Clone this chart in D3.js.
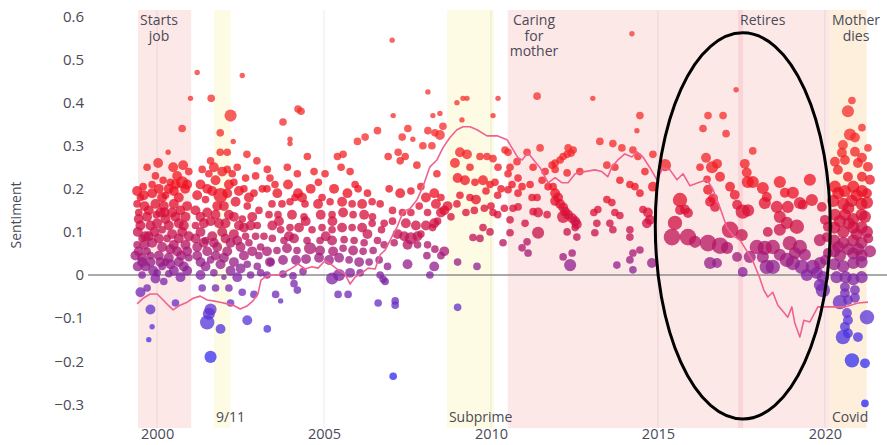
<!DOCTYPE html>
<html><head><meta charset="utf-8">
<script src="https://cdn.jsdelivr.net/npm/d3@7"></script>
<style>body{margin:0;background:#fff;} svg{display:block;font-family:"Open Sans",sans-serif;}</style>
</head><body><svg id="c" width="887" height="445"></svg>
<script>
// ---------- DATA ----------
const yTicks = [-0.3,-0.2,-0.1,0,0.1,0.2,0.3,0.4,0.5,0.6];
const xTicks = [2000,2005,2010,2015,2020];

const bandStart = [1999.43, 2001.70, 2008.68, 2010.50, 2017.40, 2020.15];
const bandEnd   = [2001.02, 2002.20, 2010.09, 2020.15, 2017.55, 2021.25];
const bandKind  = ["life","event","event","life","mark","both"];

const topLabels = [["Starts","job"],["Caring","for","mother"],["Retires"],["Mother","dies"]];
const topLabelYear = [1999.43, 2010.50, 2017.40, 2020.15];
const bottomLabels = ["9/11","Subprime","Covid"];
const bottomLabelYear = [2001.70, 2008.68, 2020.15];

const ellipseCenter = [2017.54, 0.114];
const ellipseHalf = [2.62, 0.448];

// moving average line
const lineYears = [1999.40,1999.58,1999.79,2000.00,2000.18,2000.33,2000.48,2000.69,2000.90,2001.08,2001.29,2001.50,2001.68,2001.89,2002.10,2002.28,2002.49,2002.69,2002.87,2003.02,2003.11,2003.23,2003.38,2003.62,2003.83,2004.04,2004.22,2004.43,2004.64,2004.82,2005.03,2005.24,2005.42,2005.63,2005.78,2005.93,2006.14,2006.32,2006.53,2006.68,2006.83,2006.98,2007.19,2007.37,2007.57,2007.78,2007.96,2008.17,2008.38,2008.56,2008.77,2008.98,2009.16,2009.37,2009.58,2009.88,2010.18,2010.48,2010.66,2010.81,2010.93,2011.11,2011.32,2011.47,2011.71,2011.92,2012.13,2012.31,2012.52,2012.81,2013.11,2013.32,2013.50,2013.62,2013.80,2014.01,2014.22,2014.37,2014.55,2014.76,2014.97,2015.15,2015.36,2015.57,2015.75,2015.96,2016.26,2016.47,2016.65,2016.86,2017.07,2017.25,2017.46,2017.66,2017.84,2018.05,2018.17,2018.29,2018.44,2018.59,2018.71,2018.89,2019.01,2019.10,2019.25,2019.37,2019.55,2019.79,2020.21,2020.60,2020.99,2021.29];
const lineValues = [-0.067,-0.054,-0.044,-0.044,-0.058,-0.070,-0.081,-0.070,-0.063,-0.054,-0.049,-0.058,-0.060,-0.063,-0.067,-0.070,-0.079,-0.072,-0.060,-0.044,-0.012,-0.005,0.000,0.000,0.007,0.016,0.026,0.014,0.019,0.016,0.033,0.023,0.012,0.002,-0.021,-0.005,0.005,0.016,0.014,0.047,0.058,0.081,0.112,0.147,0.154,0.174,0.205,0.251,0.267,0.295,0.319,0.337,0.344,0.344,0.337,0.323,0.323,0.314,0.291,0.272,0.267,0.284,0.263,0.249,0.214,0.226,0.214,0.214,0.235,0.240,0.244,0.240,0.228,0.251,0.267,0.281,0.274,0.286,0.274,0.249,0.221,0.249,0.244,0.221,0.235,0.207,0.216,0.221,0.198,0.156,0.109,0.091,0.081,0.056,0.033,-0.007,-0.035,-0.051,-0.040,-0.070,-0.081,-0.098,-0.074,-0.112,-0.144,-0.105,-0.109,-0.074,-0.074,-0.074,-0.065,-0.063];

// [year, sentiment, weight]
const startsJobPts = [[2001.0,.41,1],[2000.75,.34,2],[2000.33,.285,1],[2000.03,.26,3],[1999.70,.25,2],[2000.48,.25,3],[2000.78,.255,3],[1999.40,.195,3],[1999.58,.205,2],[1999.95,.23,2],[2000.18,.22,2],[2000.75,.215,4],[2000.84,.20,3],[2000.50,.195,3],[2000.25,.185,2],
[1999.40,.165,2],[1999.62,.16,3],[1999.95,.165,3],[2000.20,.16,3],[2000.50,.165,3],[2000.90,.16,3],
[1999.45,.13,3],[1999.70,.135,3],[1999.98,.14,2],[2000.25,.13,3],[2000.55,.135,3],[2000.85,.135,3],
[1999.42,.10,3],[1999.65,.09,3],[1999.92,.10,3],[2000.15,.105,2],[2000.45,.095,3],[2000.75,.10,3],
[1999.40,.07,2],[1999.62,.07,3],[1999.85,.075,3],[2000.15,.065,3],[2000.50,.07,3],[2000.85,.07,3],
[1999.35,.045,3],[1999.55,.04,3],[1999.80,.045,2],[2000.05,.045,3],[2000.35,.04,3],[2000.72,.045,3],
[1999.42,.02,3],[1999.65,.02,3],[1999.88,.01,3],[2000.15,.02,2],[2000.50,.01,3],[2000.80,.02,3],
[1999.55,.0,2],[1999.95,-.008,3],[2000.20,-.015,2],[2000.35,.003,2],[2000.70,-.005,3],
[1999.70,-.03,2],[1999.50,-.04,3],[1999.80,-.08,3],[1999.85,-.12,1],[1999.75,-.15,1],[2000.55,-.065,2],
[1999.50,.18,2],[2000.05,.20,3],[1999.80,.115,3],[2000.35,.115,3],[2000.65,.12,3],[1999.55,.085,2],[2000.30,.085,2],[2000.95,.09,3],[1999.70,.055,2],[2000.60,.055,3],[2000.95,.04,2],[2000.25,.03,2],[2000.00,.005,2],[1999.45,.145,2],[2000.10,.145,3],[2000.70,.15,3],[2000.40,.215,2],[2000.95,.24,2],[2000.60,.23,3],
[1999.50,.115,3],[1999.75,.15,3],[2000.0,.12,3],[2000.22,.145,3],[2000.45,.145,3],[2000.80,.115,3],[1999.45,.055,3],[1999.75,.09,3],[2000.05,.085,3],[2000.40,.06,3],[2000.65,.085,3],[2000.90,.055,3],[1999.55,.03,3],[1999.80,.03,3],[2000.10,.03,3],[2000.40,.025,3],[2000.65,.03,3],[2000.90,.01,3],[1999.60,.185,3],[1999.85,.19,3],[2000.15,.18,3],[2000.35,.2,3],[2000.65,.18,3],[2000.90,.21,3],[1999.85,.21,2],[2000.55,.21,3]];

const earlyPts = [[2001.20,.47,1],[2002.55,.463,1],[2001.62,.41,2],[2002.20,.37,4],[2001.89,.33,2],[2002.28,.31,1],[2001.60,.265,2],[2001.89,.285,2],[2002.10,.285,2],[2002.69,.28,2],[2002.99,.265,2],
[2001.35,.245,2],[2001.70,.25,3],[2002.10,.245,2],[2002.40,.25,2],
[2001.30,.21,3],[2001.65,.195,3],[2001.90,.185,5],[2002.10,.19,3],[2002.35,.17,3],[2002.60,.20,2],[2002.90,.19,2],
[2001.30,.135,3],[2001.50,.145,3],[2001.75,.14,3],[2002.15,.14,3],[2002.55,.13,2],[2002.85,.135,3],
[2001.30,.10,3],[2001.65,.09,3],[2001.95,.10,3],[2002.30,.095,3],[2002.65,.09,2],[2002.95,.09,2],
[2001.20,.065,3],[2001.50,.055,3],[2001.80,.065,3],[2002.10,.055,3],[2002.50,.065,3],[2002.85,.055,3],[2003.10,.065,2],
[2001.30,.03,3],[2001.60,.035,2],[2001.90,.025,3],[2002.30,.03,3],[2002.70,.025,2],[2003.00,.02,2],[2003.40,.03,2],
[2001.30,.0,3],[2001.70,.005,2],[2002.00,-.005,1],[2002.40,-.005,3],[2002.80,.0,2],[2003.10,.005,2],
[2001.35,-.03,2],[2001.75,-.03,2],[2002.15,-.03,2],[2002.55,-.04,2],
[2001.60,-.08,4],[2001.55,-.09,4],[2001.50,-.11,5],[2001.90,-.125,3],[2002.70,-.105,3],[2003.30,-.125,2],[2001.60,-.19,4],
[2002.20,-.065,2],[2002.90,-.045,2],[2003.55,-.045,2],[2003.70,-.06,1],
[2001.45,.175,2],[2002.00,.16,3],[2002.70,.16,2],[2001.15,.115,2],[2001.85,.12,3],[2002.45,.115,3],[2003.00,.115,2],[2002.20,.075,3],[2002.75,.075,2],[2001.45,.08,2],[2003.05,.15,2],[2003.15,.20,2],[2003.05,.045,2],[2003.20,.09,2],[2002.65,.225,2],[2002.95,.23,2],[2002.30,.215,2],
[2001.15,.15,3],[2001.40,.12,3],[2001.60,.125,3],[2001.80,.16,3],[2002.05,.12,3],[2002.30,.135,3],[2002.60,.11,3],[2002.80,.115,3],[2001.15,.085,3],[2001.40,.075,3],[2001.70,.075,3],[2002.05,.085,3],[2002.40,.08,3],[2002.60,.045,3],[2001.20,.045,3],[2001.45,.02,3],[2001.75,.045,3],[2002.00,.04,3],[2002.20,.01,3],[2002.50,.015,3],[2001.20,.185,3],[2001.50,.2,3],[2001.75,.22,3],[2002.15,.21,3],[2002.45,.195,3],[2002.75,.18,3],[2001.55,.235,2],[2001.95,.24,3],[2002.25,.235,2]];

const midPts = [[2004.22,.385,2],[2004.31,.38,2],[2003.77,.355,2],[2003.98,.315,1],[2003.98,.305,1],[2006.60,.335,2],[2006.00,.31,2],[2006.23,.32,2],
[2003.30,.245,2],[2003.90,.25,2],[2004.20,.235,2],[2004.50,.275,2],[2005.03,.235,2],[2005.40,.275,2],[2005.57,.28,2],[2005.51,.25,2],[2005.78,.24,2],[2005.93,.21,2],[2006.02,.20,2],
[2004.83,.215,2],[2004.94,.18,2],[2003.38,.225,2],[2003.53,.21,2],[2003.92,.21,3],[2004.22,.19,3],[2004.13,.18,2],[2004.34,.18,3],[2003.29,.20,2],
[2003.44,.165,2],[2003.74,.165,2],[2003.98,.17,2],[2004.43,.165,2],[2004.82,.165,3],[2005.18,.17,2],[2005.54,.17,3],[2005.84,.165,2],[2006.14,.165,3],[2006.44,.17,2],[2006.68,.165,2],
[2003.35,.14,2],[2003.62,.14,2],[2004.04,.14,3],[2004.40,.135,2],[2004.90,.14,3],[2005.24,.14,2],[2005.57,.145,3],[2005.87,.14,2],[2006.20,.14,3],[2006.45,.135,2],
[2003.45,.115,3],[2003.70,.105,2],[2003.98,.11,2],[2004.25,.11,3],[2004.64,.105,2],[2004.94,.11,2],[2005.24,.105,2],[2005.54,.11,3],[2005.84,.11,2],[2006.14,.11,3],[2006.44,.12,2],[2006.72,.105,2],
[2003.45,.085,2],[2003.80,.08,2],[2004.10,.085,3],[2004.49,.08,2],[2004.88,.08,2],[2005.24,.08,3],[2005.60,.082,2],[2005.90,.08,2],[2006.20,.075,2],[2006.60,.08,2],
[2003.29,.055,3],[2003.59,.057,2],[2003.89,.062,3],[2004.19,.057,2],[2004.58,.062,4],[2004.88,.057,3],[2005.27,.055,3],[2005.57,.062,2],[2005.87,.057,3],[2006.17,.055,2],[2006.47,.057,2],
[2003.38,.03,3],[2003.77,.035,3],[2004.16,.035,3],[2004.46,.037,3],[2004.85,.04,3],[2005.15,.035,3],[2005.45,.04,3],[2005.75,.035,2],[2006.05,.03,3],[2006.35,.03,2],[2006.65,.035,2],
[2003.29,.0,2],[2003.77,.002,2],[2004.07,-.002,2],[2004.37,.008,2],[2005.24,-.008,4],[2005.45,.0,4],[2005.78,.005,3],[2006.08,.005,2],[2006.68,.0,2],
[2004.10,-.02,2],[2004.20,-.035,2],[2005.42,-.045,2],[2005.72,-.045,2],[2006.62,-.065,2],[2006.83,-.015,2],
[2003.60,.19,3],[2004.60,.2,3],[2005.30,.2,3],[2005.70,.19,3],[2006.30,.19,2],[2004.70,.24,2],[2005.25,.125,3],[2004.45,.125,3],[2003.65,.125,3],[2006.30,.095,3],[2005.05,.09,3],[2003.95,.09,3]];

const subprimePts = [[2007.04,.545,1],[2008.11,.425,1],[2008.98,.40,1],[2009.28,.41,1],[2009.16,.41,1],[2010.21,.41,1],[2007.07,.37,1],[2008.26,.37,1],[2008.47,.375,1],[2009.13,.36,1],[2010.06,.37,1],
[2007.51,.34,2],[2007.34,.32,2],[2007.66,.315,1],[2008.11,.335,2],[2008.32,.33,2],[2008.47,.325,3],[2008.56,.345,2],
[2007.96,.30,2],[2008.23,.30,2],[2006.92,.275,2],[2007.22,.285,2],[2007.43,.275,2],[2007.78,.255,2],[2007.28,.265,2],
[2009.07,.285,3],[2009.28,.28,3],[2009.37,.25,2],[2009.67,.275,2],[2009.88,.275,2],[2010.06,.27,2],[2010.21,.25,2],[2010.42,.29,2],
[2008.92,.26,3],[2009.00,.225,3],[2009.22,.22,3],[2009.52,.215,2],[2009.76,.22,3],[2009.97,.21,2],[2010.12,.215,2],[2010.30,.20,2],[2008.38,.235,2],
[2006.95,.20,2],[2007.28,.19,3],[2007.60,.195,2],[2007.90,.205,2],[2008.05,.18,3],[2008.30,.19,3],
[2008.50,.18,2],[2008.70,.16,3],[2008.98,.165,2],[2009.07,.185,2],[2009.37,.18,2],[2009.55,.175,3],[2009.85,.195,2],[2010.00,.16,2],[2010.20,.185,2],
[2008.35,.165,3],[2008.50,.145,3],[2008.60,.15,3],[2008.80,.135,2],[2009.25,.145,2],[2009.50,.15,2],[2009.80,.155,2],[2010.20,.14,2],[2010.40,.155,2],
[2007.05,.15,2],[2007.35,.145,2],[2007.60,.145,2],[2007.85,.16,2],[2008.10,.145,2],[2008.30,.12,3],[2008.40,.125,2],
[2006.80,.12,2],[2007.05,.125,2],[2007.45,.12,3],[2007.75,.115,3],[2008.05,.115,3],[2008.25,.11,2],
[2007.20,.095,3],[2007.40,.09,3],[2007.60,.085,4],[2007.80,.09,3],[2007.90,.095,2],
[2006.80,.07,2],[2007.10,.075,2],[2007.50,.07,3],[2007.80,.07,2],[2008.10,.07,2],
[2009.46,.087,2],[2009.67,.085,2],[2009.76,.11,2],[2009.97,.10,2],[2010.36,.075,2],[2010.06,.145,2],
[2008.32,.06,2],[2008.60,.055,3],[2008.08,.045,2],[2008.50,.045,2],
[2006.90,.02,2],[2007.50,.025,3],[2008.30,.02,3],[2009.00,.03,2],[2009.58,.02,2],[2008.17,.0,2],[2006.77,-.01,2],
[2007.13,-.06,2],[2007.13,-.07,2],[2009.00,-.075,2],[2007.07,-.235,2]];

const caringPts = [[2014.22,.56,1],[2011.38,.415,2],[2013.05,.41,1],[2014.46,.37,2],[2014.37,.335,1],
[2013.26,.31,2],[2013.65,.305,2],[2013.92,.295,2],[2014.25,.29,2],[2014.40,.275,2],[2014.85,.28,2],
[2012.31,.295,2],[2012.46,.29,2],[2012.40,.283,2],[2012.16,.275,2],[2012.28,.28,2],[2012.07,.267,2],[2011.92,.26,2],[2011.83,.255,2],
[2011.47,.295,2],[2011.08,.285,2],[2010.51,.285,2],[2010.78,.263,2],[2010.57,.25,2],[2011.26,.25,2],[2011.62,.24,2],[2011.92,.245,2],[2012.28,.237,2],[2012.66,.24,2],
[2013.47,.255,2],[2013.71,.25,2],[2013.86,.22,2],[2014.16,.21,2],[2014.46,.19,2],[2014.85,.205,3],[2014.61,.24,2],[2014.31,.205,2],
[2010.51,.235,2],[2010.81,.225,2],[2010.63,.21,2],[2010.93,.205,2],[2011.17,.21,2],[2011.53,.22,2],[2011.71,.205,2],[2011.86,.205,2],
[2011.92,.19,3],[2012.01,.18,3],[2011.92,.172,3],[2012.07,.165,3],[2012.16,.157,3],[2012.22,.147,3],[2012.31,.14,3],[2012.43,.132,3],[2012.52,.125,3],[2012.57,.118,3],[2012.16,.135,4],
[2011.23,.18,2],[2011.38,.18,2],[2010.51,.198,2],[2010.81,.19,2],
[2010.66,.155,2],[2010.81,.158,2],[2011.26,.147,2],[2011.41,.145,3],[2011.68,.14,2],
[2013.47,.175,2],[2013.62,.168,2],[2013.20,.152,2],[2013.08,.145,2],[2013.71,.145,2],[2013.86,.138,2],
[2014.55,.152,2],[2014.70,.145,3],[2014.76,.128,3],[2014.67,.12,3],
[2011.02,.12,2],[2010.57,.128,2],[2011.41,.098,4],[2012.28,.10,2],[2012.57,.088,2],[2012.52,.11,2],[2013.17,.12,2],[2013.11,.098,2],[2013.56,.12,2],[2013.65,.105,2],[2014.16,.105,2],[2014.16,.088,2],
[2010.57,.098,2],[2011.08,.077,2],[2010.93,.063,2],[2011.11,.051,2],[2012.16,.042,2],[2012.43,.051,2],[2012.37,.023,4],[2013.77,.023,2],
[2014.25,.051,2],[2014.46,.058,2],[2014.16,.035,2],[2014.25,.012,2],[2014.82,.028,3]];

const retirePts = [[2017.34,.43,1],[2016.50,.37,2],[2016.95,.37,2],[2016.35,.34,2],[2017.04,.328,2],[2017.84,.288,2],
[2015.21,.255,4],[2016.44,.272,3],[2016.77,.258,3],[2016.62,.25,4],[2016.86,.228,3],[2016.26,.25,2],[2016.47,.222,2],
[2017.60,.258,3],[2017.66,.238,3],[2017.69,.216,4],
[2017.16,.205,3],[2017.30,.186,3],[2017.37,.163,3],[2017.54,.147,5],[2017.70,.15,4],
[2016.56,.17,3],[2016.71,.158,3],[2016.50,.198,3],[2016.65,.178,3],
[2015.66,.174,5],[2015.66,.151,3],[2015.90,.144,3],[2015.51,.121,5],[2015.81,.152,3],
[2015.42,.088,6],[2015.90,.088,6],[2016.11,.077,4],[2016.50,.074,6],[2016.86,.068,6],[2017.07,.063,4],[2017.16,.105,6],[2017.51,.093,4],
[2016.56,.028,4],[2016.77,.028,3],[2017.37,.042,3],[2017.75,.042,4],[2017.54,.007,3],
[2017.96,.065,5],[2018.20,.063,5],[2018.44,.065,5],[2018.95,.074,5],[2019.25,.065,5],[2019.85,.081,4],
[2017.84,.216,4],[2018.14,.202,4],[2018.26,.181,3],[2018.65,.216,4],[2018.80,.191,3],[2019.04,.191,4],[2019.55,.221,4],
[2018.20,.167,4],[2018.56,.158,4],[2018.89,.158,4],[2019.25,.167,4],[2019.61,.174,4],[2019.91,.158,3],[2019.34,.163,3],
[2018.65,.135,4],[2018.86,.121,4],[2019.16,.112,5],[2018.65,.105,4],[2018.29,.1,3],
[2018.26,.019,5],[2018.44,.019,5],[2018.86,.035,5],[2019.04,.028,5],[2019.31,.019,5],[2019.64,.019,5],[2019.85,.028,4],
[2018.14,.042,4],[2018.65,.047,4],[2019.10,.051,4],[2019.40,.047,4],[2020.00,.035,3],
[2019.46,.0,4],[2019.76,.005,4],[2019.94,-.005,4],[2019.85,-.023,4],[2019.94,-.035,5],
[2020.06,.088,3],[2020.09,.112,3],[2020.00,.128,3],[2020.09,.051,3]];

const covidPts = [[2020.81,.405,2],[2020.69,.38,4],[2021.11,.342,2],[2020.75,.326,4],[2020.90,.319,3],[2021.29,.295,2],
[2020.54,.302,3],[2020.51,.284,3],[2020.90,.286,3],[2021.11,.272,3],
[2020.30,.263,3],[2020.60,.267,3],[2020.99,.260,3],[2021.29,.251,3],
[2020.39,.244,3],[2020.69,.228,3],[2021.11,.228,3],[2021.35,.221,3],
[2020.30,.205,4],[2020.60,.195,4],[2020.85,.205,4],[2021.11,.195,4],[2021.26,.19,3],
[2020.25,.172,4],[2020.55,.165,4],[2020.80,.172,4],[2021.10,.165,4],[2021.26,.168,4],
[2020.30,.14,4],[2020.60,.14,4],[2020.85,.13,4],[2021.10,.14,4],
[2020.28,.11,4],[2020.55,.10,4],[2020.85,.11,4],[2021.10,.11,4],[2021.26,.10,4],
[2020.28,.08,4],[2020.55,.075,4],[2020.85,.08,4],[2021.10,.075,4],[2021.30,.085,3],
[2020.28,.055,4],[2020.45,.045,4],[2020.85,.05,4],[2021.10,.045,4],[2021.35,.055,4],
[2020.28,.025,4],[2020.55,.02,4],[2020.85,.028,4],[2021.10,.03,4],
[2020.35,-.005,4],[2020.62,-.005,4],[2020.85,-.01,4],[2021.10,-.005,4],
[2020.60,-.028,3],[2020.90,-.035,3],[2020.60,-.042,3],[2020.90,-.053,3],
[2020.45,-.063,5],[2020.69,-.058,3],[2021.26,-.098,5],
[2020.66,-.088,3],[2020.69,-.105,3],[2020.60,-.12,3],
[2020.69,-.135,3],[2020.54,-.144,5],[2020.99,-.144,3],
[2020.81,-.198,5],[2021.20,-.205,3],[2021.20,-.298,2],
[2020.40,.19,4],[2020.70,.155,4],[2020.95,.185,4],[2020.45,.125,4],[2020.72,.12,4],[2020.95,.095,4],[2020.40,.065,4],[2020.70,.06,4],[2021.0,.06,4],[2021.2,.135,4]];

// ---------- CHART ----------
const svg = d3.select("#c");
const x = d3.scaleLinear().domain([1997.93, 2021.86]).range([88, 887]);
const y = d3.scaleLinear().domain([-0.355, 0.615]).range([428, 10]);
const r = d3.scaleLinear().domain([1, 6]).range([2.7, 8.3]);
const color = d3.scaleLinear()
  .domain([-0.3,-0.2,-0.1,0,0.1,0.2,0.3,0.6])
  .range(["#2a22f2","#3430ee","#5a34d6","#8222a0","#c8104a","#ee1020","#f42a28","#f23c3c"]);

const bandFill = {life:"#fde8e8", event:"#fefbe4", mark:"#f9d5d8", both:"#fdefdc"};
const bands = bandStart.map((s,i)=>({s, e:bandEnd[i], k:bandKind[i]}));
svg.append("g").selectAll("rect").data(bands).join("rect")
  .attr("x", d=>x(d.s)).attr("width", d=>x(d.e)-x(d.s))
  .attr("y", y(0.615)).attr("height", y(-0.355)-y(0.615))
  .attr("fill", d=>bandFill[d.k]);

// vertical grid
svg.append("g").selectAll("line").data(xTicks).join("line")
  .attr("x1", d=>x(d)).attr("x2", d=>x(d))
  .attr("y1", y(0.615)).attr("y2", y(-0.355))
  .attr("stroke", "rgba(0,0,0,0.08)").attr("stroke-width", 1);

// zero line
svg.append("line").attr("x1", 88).attr("x2", 887).attr("y1", y(0)).attr("y2", y(0))
  .attr("stroke", "#8c8c8c").attr("stroke-width", 1.6);

// axes
const fmt = v => v === 0 ? "0" : d3.format(".1f")(v);
const ya = svg.append("g").attr("transform", "translate(88,0)")
  .call(d3.axisLeft(y).tickValues(yTicks).tickSize(0).tickPadding(4).tickFormat(fmt));
ya.select(".domain").remove();
ya.selectAll("text").attr("font-size", 15).attr("fill", "#4a4a58").attr("font-family", "Open Sans");

const xa = svg.append("g").attr("transform", `translate(0,${y(-0.355)})`)
  .call(d3.axisBottom(x).tickValues(xTicks).tickSize(0).tickPadding(1).tickFormat(d3.format("d")));
xa.select(".domain").remove();
xa.selectAll("text").attr("font-size", 14.5).attr("fill", "#4a4a58").attr("font-family", "Open Sans");

svg.append("text").attr("transform", "translate(15,215) rotate(-90)")
  .attr("text-anchor", "middle").attr("dominant-baseline", "central")
  .attr("font-size", 14).attr("fill", "#4a4a58").text("Sentiment");

// points
const allPts = [].concat(startsJobPts, earlyPts, midPts, subprimePts, caringPts, retirePts, covidPts);
svg.append("g").selectAll("circle").data(allPts).join("circle")
  .attr("cx", d=>x(d[0])).attr("cy", d=>y(d[1])).attr("r", d=>r(d[2]))
  .attr("fill", d=>color(d[1])).attr("fill-opacity", 0.76);

// moving average
const line = d3.line().x((d,i)=>x(lineYears[i])).y((d,i)=>y(lineValues[i]));
svg.append("path").datum(lineValues).attr("d", line)
  .attr("fill", "none").attr("stroke", "#f0628e").attr("stroke-width", 1.6).attr("stroke-linejoin","round");

// labels
function labelBlock(lines, year, firstBaseline){
  const g = svg.append("g");
  const ts = lines.map((t,i)=> g.append("text").attr("y", firstBaseline + i*15.5)
      .attr("font-size", 14).attr("fill", "#4a4a58").attr("text-anchor","middle").text(t));
  const w = d3.max(ts, t=>t.node().getComputedTextLength());
  ts.forEach(t=>t.attr("x", x(year) + 2 + w/2));
}
topLabels.forEach((l,i)=>labelBlock(l, topLabelYear[i], 25));
bottomLabels.forEach((l,i)=>labelBlock([l], bottomLabelYear[i], 422));

// ellipse
svg.append("ellipse")
  .attr("cx", x(ellipseCenter[0])).attr("cy", y(ellipseCenter[1]))
  .attr("rx", x(ellipseCenter[0]+ellipseHalf[0]) - x(ellipseCenter[0]))
  .attr("ry", y(ellipseCenter[1]-ellipseHalf[1]) - y(ellipseCenter[1]))
  .attr("fill", "none").attr("stroke", "#000").attr("stroke-width", 3);
</script></body></html>
